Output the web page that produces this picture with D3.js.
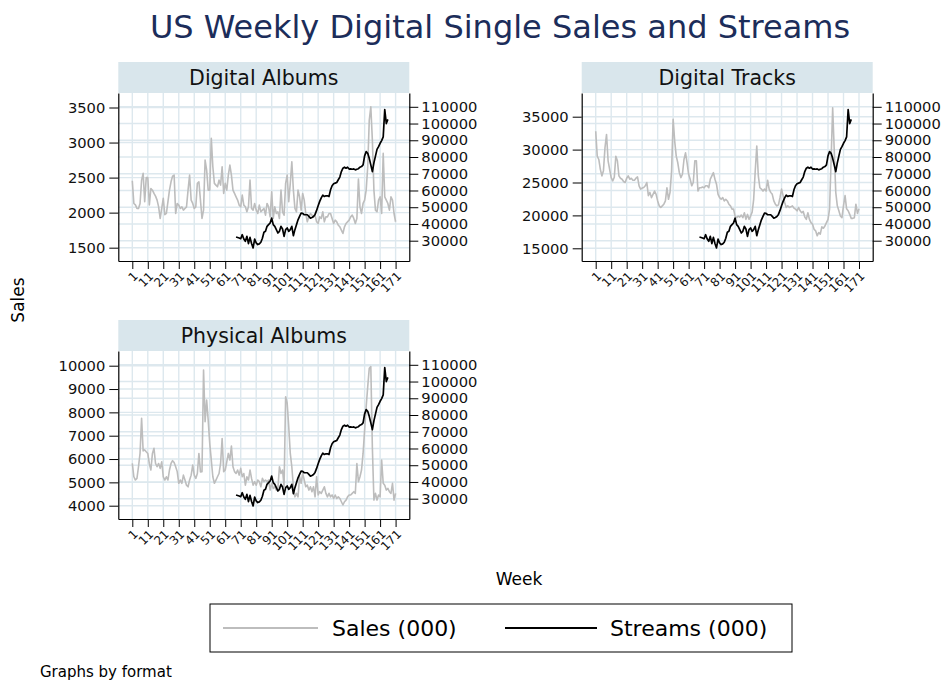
<!DOCTYPE html>
<html lang="en">
<head>
<meta charset="UTF-8">
<script src="https://d3js.org/d3.v7.min.js"></script>
<title>US Weekly Digital Single Sales and Streams</title>
<style>
    body { margin: 0; background: #fff; }
    text { font-family: "DejaVu Sans", Arial, sans-serif; }
</style>
</head>
<body>
<div id="chart"></div>
<script>
    const width = 947;
    const height = 684;

    // Week tick labels
    const weekTicks = [1, 11, 21, 31, 41, 51, 61, 71, 81, 91, 101, 111, 121, 131, 141, 151, 161, 171];

    // Weekly sales (000), weeks 1..171
    const salesAlbums = [
        2455, 2130, 2110, 2060, 2060, 2130, 2464, 2560, 2155, 2500,
        2500, 2110, 2345, 2320, 2274, 2236, 2179, 2083, 1917, 2060,
        2203, 1970, 1988, 2155, 2321, 2440, 2521, 2536, 1988, 2131,
        2107, 2060, 2083, 2036, 2060, 2083, 2321, 2536, 2179, 2131,
        2060, 2083, 2417, 2440, 2179, 1917, 2036, 2750, 2607, 2321,
        2321, 3060, 2655, 2417, 2393, 2369, 2464, 2393, 2655, 2274,
        2417, 2321, 2536, 2679, 2536, 2321, 2274, 2226, 2179, 2107,
        2083, 2250, 2107, 2083, 2012, 2083, 2464, 2060, 2036, 2131,
        2036, 1988, 2107, 2012, 2036, 2060, 1964, 2131, 2083, 1940,
        2298, 1917, 2083, 1988, 2012, 1917, 2321, 2012, 1964, 2417,
        2536, 2155, 2417, 2726, 2321, 2060, 2012, 2321, 2226, 2036,
        2274, 2179, 1988, 1869, 1940, 1988, 1964, 1940, 1964, 1869,
        1845, 1940, 1917, 2012, 1869, 1940, 1940, 1988, 1988, 1917,
        1845, 1893, 1869, 1821, 1798, 1750, 1702, 1798, 1845, 1869,
        1893, 1940, 1964, 1917, 1845, 1917, 2480, 2083, 1988, 2131,
        2179, 2321, 2655, 3320, 3510, 3035, 2321, 2035, 2012, 2179,
        2226, 1988, 2845, 2226, 2179, 2131, 2036, 2226, 2179, 1988,
        1870
    ];
    const salesTracks = [
        32800, 29000, 28500, 27000, 26000, 26800, 30300, 32300, 28300, 27000,
        25750, 25250, 25800, 29000, 28300, 26000, 25650, 25500, 25150, 25000,
        25650, 26000, 25500, 25650, 25350, 25350, 25650, 25850, 24500, 24000,
        24150, 24250, 24500, 25000, 23000, 23500, 22700, 23200, 23700, 23200,
        22200, 21450, 21200, 21450, 21700, 22200, 24200, 22450, 23500, 26750,
        34600, 31300, 29000, 28000, 26500, 25750, 26250, 28500, 29500, 28000,
        26250, 25500, 24500, 25000, 28300, 28300, 23700, 24200, 24200, 24300,
        24200, 24500, 24500, 24200, 25500, 26000, 26500, 25500, 24750, 23200,
        22700, 22450, 22700, 22200, 22450, 22200, 21700, 21450, 20950, 20950,
        19900, 19650, 19900, 19750, 20050, 19650, 20400, 19400, 20150, 19400,
        19900, 20500, 22450, 26750, 30550, 26000, 24200, 24000, 23700, 24000,
        23700, 25350, 24000, 23500, 23200, 22200, 21700, 21450, 21600, 22700,
        24000, 23000, 22000, 21200, 21450, 21200, 21300, 21450, 21100, 20950,
        20700, 21200, 20700, 20400, 20600, 19750, 19400, 20400, 19400, 18900,
        18650, 17900, 17650, 16900, 17400, 17150, 18250, 18050, 18400, 18900,
        19400, 20950, 28500, 36350, 30000, 23500, 21450, 20700, 19900, 19650,
        21500, 23000, 21000, 20700, 20150, 19550, 19550, 19650, 21700, 20300,
        21000
    ];
    const salesPhysical = [
        5810, 5240, 5100, 5170, 5670, 6240, 7750, 6350, 6390, 6310,
        6240, 5800, 5530, 6240, 6460, 5810, 5670, 5810, 5600, 5880,
        5240, 5100, 5240, 5100, 5530, 5810, 5930, 5850, 5670, 5460,
        4960, 5100, 4960, 5310, 5100, 4880, 4810, 5100, 5310, 5740,
        5310, 5170, 5380, 6240, 5450, 5460, 9810, 7600, 8530, 7670,
        6670, 5960, 5240, 4960, 5100, 5240, 5380, 5810, 6880, 5460,
        5530, 5880, 6240, 5960, 6560, 5670, 5460, 5380, 5530, 5310,
        5600, 5240, 5380, 4880, 5240, 5100, 5530, 5170, 4880, 5030,
        4880, 5100, 5030, 4810, 5170, 5030, 5100, 5030, 5100, 4670,
        4960, 4740, 4810, 4670, 4740, 5670, 5380, 5530, 4810, 8670,
        8390, 7390, 6240, 5670, 4810, 4380, 4530, 4380, 5240, 4960,
        5380, 5100, 4810, 4880, 4670, 4810, 4600, 4810, 4380, 5240,
        4460, 4600, 4530, 4670, 4810, 4530, 4380, 4530, 4380, 4460,
        4310, 4460, 4310, 4380, 4310, 4170, 4030, 4170, 4240, 4380,
        4460, 4460, 4530, 4600, 4530, 5810, 5030, 5240, 5530, 6240,
        7240, 8240, 9100, 9890, 9960, 6500, 4240, 4530, 4240, 4460,
        4380, 5960, 4960, 4880, 4670, 4740, 4600, 4530, 4960, 4240,
        4530
    ];

    // Weekly streams (000), weeks 68..166
    const streamsStart = 68;
    const streams = [
        32200, 31900, 31600, 31200, 33600, 31000, 29600, 32600, 28300, 32000,
        28300, 25700, 31000, 28700, 27700, 28100, 29100, 31500, 35000, 35600,
        38600, 39600, 40600, 43500, 39600, 38600, 36600, 34600, 35600, 38600,
        37000, 32600, 36600, 37600, 35600, 36600, 38600, 33000, 36600, 39600,
        42500, 44500, 46500, 46300, 45500, 45500, 45500, 44500, 43500, 43900,
        44500, 45700, 48100, 50900, 53500, 55600, 57200, 56400, 56800, 56800,
        56400, 60400, 62800, 64000, 64400, 64800, 66400, 68000, 71300, 73300,
        73900, 73300, 73900, 72800, 72900, 72700, 72900, 72300, 72700, 73000,
        73900, 74300, 75300, 80700, 83200, 82200, 79200, 75300, 71300, 76500,
        80500, 84600, 86200, 88200, 89800, 92000, 108400, 100000, 102500
    ];

    // Axis tick labels
    const ticksAlbums = [1500, 2000, 2500, 3000, 3500];
    const ticksTracks = [15000, 20000, 25000, 30000, 35000];
    const ticksPhysical = [4000, 5000, 6000, 7000, 8000, 9000, 10000];
    const ticksStreams = [30000, 40000, 50000, 60000, 70000, 80000, 90000, 100000, 110000];

    const panels = [
        { title: "Digital Albums", sales: salesAlbums, ticks: ticksAlbums, domain: [1310, 3707], x0: 118.3, y0: 93 },
        { title: "Digital Tracks", sales: salesTracks, ticks: ticksTracks, domain: [13070, 38602], x0: 581.7, y0: 93 },
        { title: "Physical Albums", sales: salesPhysical, ticks: ticksPhysical, domain: [3430, 10630], x0: 118.3, y0: 351 }
    ];

    const pw = 291, ph = 168, headerH = 31;
    const gridColor = "#dde8ee";
    const salesColor = "#bdbdbd";

    var svg = d3.select("#chart")
        .append("svg")
        .attr("width", width)
        .attr("height", height);

    svg.append("rect").attr("width", width).attr("height", height).attr("fill", "#fff");

    // Title
    svg.append("text")
        .attr("x", 500)
        .attr("y", 38)
        .attr("text-anchor", "middle")
        .attr("font-size", 32)
        .attr("fill", "#1c2d5a")
        .text("US Weekly Digital Single Sales and Streams");

    panels.forEach(p => {
        const g = svg.append("g");

        const x = d3.scaleLinear().domain([-8.04, 179.85]).range([p.x0, p.x0 + pw]);
        const yL = d3.scaleLinear().domain(p.domain).range([p.y0 + ph, p.y0]);
        const yR = d3.scaleLinear().domain([17873, 118244]).range([p.y0 + ph, p.y0]);

        // Header strip
        g.append("rect")
            .attr("x", p.x0)
            .attr("y", p.y0 - headerH)
            .attr("width", pw)
            .attr("height", headerH)
            .attr("fill", "#d9e6ec");
        g.append("text")
            .attr("x", p.x0 + pw / 2)
            .attr("y", p.y0 - 8)
            .attr("text-anchor", "middle")
            .attr("font-size", 20.5)
            .attr("fill", "#111")
            .text(p.title);

        // Grid
        const grid = g.append("g").attr("stroke", gridColor).attr("stroke-width", 1.4);
        grid.selectAll(".gx").data(weekTicks).enter().append("line")
            .attr("x1", d => x(d)).attr("x2", d => x(d))
            .attr("y1", p.y0).attr("y2", p.y0 + ph);
        grid.selectAll(".gl").data(p.ticks).enter().append("line")
            .attr("x1", p.x0).attr("x2", p.x0 + pw)
            .attr("y1", d => yL(d)).attr("y2", d => yL(d));
        grid.selectAll(".gr").data(ticksStreams).enter().append("line")
            .attr("x1", p.x0).attr("x2", p.x0 + pw)
            .attr("y1", d => yR(d)).attr("y2", d => yR(d));

        // Lines
        const salesLine = d3.line()
            .x((d, i) => x(i + 1))
            .y(d => yL(d));
        g.append("path")
            .datum(p.sales)
            .attr("fill", "none")
            .attr("stroke", salesColor)
            .attr("stroke-width", 1.6)
            .attr("stroke-linejoin", "round")
            .attr("d", salesLine);

        const streamLine = d3.line()
            .x((d, i) => x(streamsStart + i))
            .y(d => yR(d));
        g.append("path")
            .datum(streams)
            .attr("fill", "none")
            .attr("stroke", "#000")
            .attr("stroke-width", 1.7)
            .attr("stroke-linejoin", "round")
            .attr("d", streamLine);

        // Axes
        const ax = g.append("g")
            .attr("transform", `translate(${p.x0},0)`)
            .call(d3.axisLeft(yL).tickValues(p.ticks).tickSize(9).tickSizeOuter(0).tickPadding(4).tickFormat(d3.format("d")));
        ax.selectAll("text").attr("font-size", 14.7).attr("fill", "#111");

        const axR = g.append("g")
            .attr("transform", `translate(${p.x0 + pw},0)`)
            .call(d3.axisRight(yR).tickValues(ticksStreams).tickSize(9).tickSizeOuter(0).tickPadding(3).tickFormat(d3.format("d")));
        axR.selectAll("text").attr("font-size", 14.7).attr("fill", "#111");

        // rotated week labels, ending just under each tick
        const axB = g.append("g")
            .attr("transform", `translate(0,${p.y0 + ph})`)
            .call(d3.axisBottom(x).tickValues(weekTicks).tickSize(8).tickSizeOuter(0));
        axB.selectAll("text")
            .attr("font-size", 12)
            .attr("fill", "#111")
            .attr("x", 0)
            .attr("y", 0)
            .attr("dy", "0.35em")
            .attr("text-anchor", "end")
            .attr("transform", "translate(3,13) rotate(-45)");

        g.selectAll(".domain").attr("stroke", "#000").attr("stroke-width", 1.2);
        g.selectAll(".tick line").attr("stroke", "#000");
    });

    // Axis titles
    svg.append("text")
        .attr("transform", "rotate(-90)")
        .attr("x", -300)
        .attr("y", 24)
        .attr("text-anchor", "middle")
        .attr("font-size", 17)
        .text("Sales");

    svg.append("text")
        .attr("x", 519)
        .attr("y", 585)
        .attr("text-anchor", "middle")
        .attr("font-size", 17)
        .text("Week");

    // Legend
    const leg = svg.append("g");
    leg.append("rect")
        .attr("x", 210).attr("y", 604)
        .attr("width", 582).attr("height", 48)
        .attr("fill", "#fff").attr("stroke", "#000").attr("stroke-width", 1);
    leg.append("line")
        .attr("x1", 223).attr("x2", 318).attr("y1", 628).attr("y2", 628)
        .attr("stroke", salesColor).attr("stroke-width", 2);
    leg.append("text")
        .attr("x", 332).attr("y", 636)
        .attr("font-size", 22)
        .text("Sales (000)");
    leg.append("line")
        .attr("x1", 505).attr("x2", 597).attr("y1", 628).attr("y2", 628)
        .attr("stroke", "#000").attr("stroke-width", 2);
    leg.append("text")
        .attr("x", 610).attr("y", 636)
        .attr("font-size", 22)
        .text("Streams (000)");

    svg.append("text")
        .attr("x", 40)
        .attr("y", 677)
        .attr("font-size", 15)
        .text("Graphs by format");
</script>
</body>
</html>
